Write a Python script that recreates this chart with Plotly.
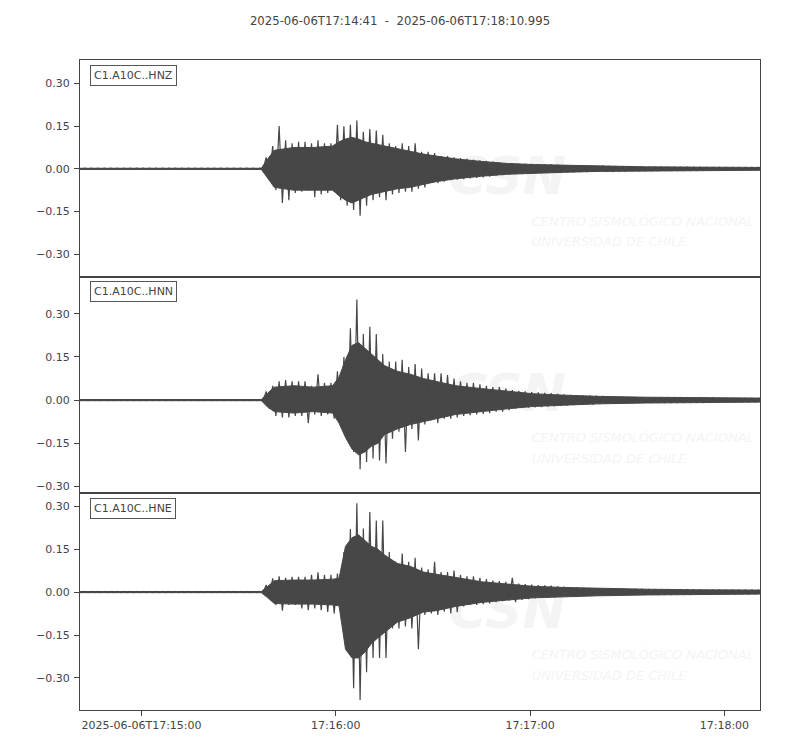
import pandas as pd
import plotly.graph_objects as go
from plotly.subplots import make_subplots

start = pd.Timestamp("2025-06-06T17:14:41")
end = pd.Timestamp("2025-06-06T17:18:10.995")

stations = ["C1.A10C..HNZ", "C1.A10C..HNN", "C1.A10C..HNE"]

# peak envelope, one max/min pair every 2 s after the start time
seconds = list(range(0, 211, 2))

hnz_max = [
    0.002, 0.002, 0.002, 0.002, 0.002, 0.002, 0.002, 0.002, 0.002, 0.002,
    0.002, 0.002, 0.002, 0.002, 0.002, 0.002, 0.002, 0.002, 0.002, 0.002,
    0.002, 0.002, 0.002, 0.002, 0.002, 0.002, 0.002, 0.002, 0.002,
    0.04, 0.08, 0.15, 0.10, 0.09, 0.095, 0.095, 0.09, 0.10, 0.09, 0.09,
    0.155, 0.15, 0.155, 0.17, 0.13, 0.14, 0.135, 0.12, 0.09, 0.08,
    0.09, 0.08, 0.09, 0.06, 0.06, 0.055, 0.045, 0.045, 0.04, 0.038,
    0.035, 0.032, 0.03, 0.028, 0.025, 0.022, 0.02, 0.02, 0.018, 0.018,
    0.017, 0.016, 0.015, 0.015, 0.014, 0.013, 0.012, 0.012, 0.011, 0.011,
    0.010, 0.010, 0.009,
    0.008, 0.008, 0.008, 0.007, 0.007, 0.007, 0.007, 0.007, 0.006, 0.006,
    0.006, 0.006, 0.006, 0.006, 0.005, 0.005, 0.005, 0.005, 0.005, 0.005,
    0.005, 0.005, 0.005,
]
hnz_min = [
    -0.002, -0.002, -0.002, -0.002, -0.002, -0.002, -0.002, -0.002, -0.002, -0.002,
    -0.002, -0.002, -0.002, -0.002, -0.002, -0.002, -0.002, -0.002, -0.002, -0.002,
    -0.002, -0.002, -0.002, -0.002, -0.002, -0.002, -0.002, -0.002, -0.002,
    -0.04, -0.075, -0.12, -0.11, -0.085, -0.08, -0.075, -0.10, -0.09, -0.085, -0.08,
    -0.11, -0.13, -0.145, -0.165, -0.13, -0.11, -0.10, -0.11, -0.09, -0.085,
    -0.08, -0.08, -0.07, -0.065, -0.05, -0.05, -0.045, -0.04, -0.038, -0.036,
    -0.034, -0.032, -0.03, -0.027, -0.024, -0.022, -0.02, -0.019, -0.018, -0.017,
    -0.016, -0.015, -0.015, -0.014, -0.013, -0.012, -0.012, -0.011, -0.011, -0.010,
    -0.010, -0.009, -0.009,
    -0.008, -0.008, -0.007, -0.007, -0.007, -0.007, -0.007, -0.006, -0.006, -0.006,
    -0.006, -0.006, -0.006, -0.005, -0.005, -0.005, -0.005, -0.005, -0.005, -0.005,
    -0.005, -0.005, -0.005,
]

hnn_max = [
    0.002, 0.002, 0.002, 0.002, 0.002, 0.002, 0.002, 0.002, 0.002, 0.002,
    0.002, 0.002, 0.002, 0.002, 0.002, 0.002, 0.002, 0.002, 0.002, 0.002,
    0.002, 0.002, 0.002, 0.002, 0.002, 0.002, 0.002, 0.002, 0.002,
    0.03, 0.05, 0.065, 0.07, 0.065, 0.065, 0.065, 0.05, 0.09, 0.06, 0.06,
    0.10, 0.15, 0.25, 0.35, 0.23, 0.255, 0.23, 0.16, 0.134, 0.134,
    0.14, 0.115, 0.125, 0.11, 0.093, 0.093, 0.093, 0.087, 0.075, 0.065,
    0.06, 0.06, 0.055, 0.05, 0.045, 0.045, 0.04, 0.035, 0.032, 0.03,
    0.028, 0.027, 0.025, 0.024, 0.022, 0.02, 0.018, 0.017, 0.016, 0.016,
    0.015, 0.014, 0.013,
    0.012, 0.012, 0.011, 0.011, 0.010, 0.010, 0.010, 0.009, 0.009, 0.009,
    0.009, 0.008, 0.008, 0.008, 0.008, 0.008, 0.007, 0.007, 0.007, 0.007,
    0.007, 0.007, 0.007,
]
hnn_min = [
    -0.002, -0.002, -0.002, -0.002, -0.002, -0.002, -0.002, -0.002, -0.002, -0.002,
    -0.002, -0.002, -0.002, -0.002, -0.002, -0.002, -0.002, -0.002, -0.002, -0.002,
    -0.002, -0.002, -0.002, -0.002, -0.002, -0.002, -0.002, -0.002, -0.002,
    -0.03, -0.055, -0.06, -0.06, -0.055, -0.055, -0.08, -0.05, -0.055, -0.05, -0.065,
    -0.085, -0.134, -0.18, -0.24, -0.215, -0.203, -0.21, -0.22, -0.134, -0.11,
    -0.18, -0.10, -0.14, -0.085, -0.07, -0.08, -0.065, -0.065, -0.06, -0.055,
    -0.052, -0.05, -0.048, -0.045, -0.04, -0.04, -0.035, -0.03, -0.028, -0.026,
    -0.025, -0.024, -0.023, -0.022, -0.02, -0.019, -0.017, -0.016, -0.015, -0.015,
    -0.014, -0.013, -0.012,
    -0.012, -0.011, -0.011, -0.010, -0.010, -0.010, -0.009, -0.009, -0.009, -0.009,
    -0.008, -0.008, -0.008, -0.008, -0.008, -0.007, -0.007, -0.007, -0.007, -0.007,
    -0.007, -0.007, -0.007,
]

hne_max = [
    0.002, 0.002, 0.002, 0.002, 0.002, 0.002, 0.002, 0.002, 0.002, 0.002,
    0.002, 0.002, 0.002, 0.002, 0.002, 0.002, 0.002, 0.002, 0.002, 0.002,
    0.002, 0.002, 0.002, 0.002, 0.002, 0.002, 0.002, 0.002, 0.002,
    0.025, 0.048, 0.055, 0.05, 0.053, 0.053, 0.053, 0.06, 0.069, 0.06, 0.06,
    0.065, 0.14, 0.22, 0.31, 0.222, 0.28, 0.25, 0.25, 0.14, 0.106,
    0.135, 0.106, 0.12, 0.086, 0.08, 0.106, 0.07, 0.07, 0.075, 0.06,
    0.055, 0.055, 0.05, 0.045, 0.04, 0.038, 0.036, 0.05, 0.03, 0.028,
    0.026, 0.024, 0.023, 0.022, 0.02, 0.019, 0.017, 0.016, 0.015, 0.014,
    0.013, 0.012, 0.012,
    0.011, 0.011, 0.010, 0.010, 0.010, 0.009, 0.009, 0.009, 0.009, 0.008,
    0.008, 0.008, 0.008, 0.008, 0.007, 0.007, 0.007, 0.007, 0.007, 0.007,
    0.007, 0.007, 0.007,
]
hne_min = [
    -0.002, -0.002, -0.002, -0.002, -0.002, -0.002, -0.002, -0.002, -0.002, -0.002,
    -0.002, -0.002, -0.002, -0.002, -0.002, -0.002, -0.002, -0.002, -0.002, -0.002,
    -0.002, -0.002, -0.002, -0.002, -0.002, -0.002, -0.002, -0.002, -0.002,
    -0.02, -0.045, -0.065, -0.045, -0.045, -0.057, -0.063, -0.057, -0.063, -0.069, -0.075,
    -0.057, -0.2, -0.336, -0.377, -0.28, -0.23, -0.23, -0.23, -0.127, -0.127,
    -0.12, -0.127, -0.2, -0.08, -0.075, -0.08, -0.069, -0.075, -0.07, -0.05,
    -0.045, -0.045, -0.042, -0.04, -0.035, -0.032, -0.03, -0.035, -0.027, -0.025,
    -0.022, -0.02, -0.019, -0.018, -0.017, -0.016, -0.015, -0.014, -0.013, -0.012,
    -0.012, -0.011, -0.011,
    -0.010, -0.010, -0.010, -0.009, -0.009, -0.009, -0.009, -0.008, -0.008, -0.008,
    -0.008, -0.008, -0.007, -0.007, -0.007, -0.007, -0.007, -0.007, -0.007, -0.007,
    -0.007, -0.007, -0.007,
]

# solid body of each trace (where the wiggles are dense), coarser time grid
body_seconds = [0, 56, 58, 60, 66, 72, 78, 80, 82, 84, 86, 88, 90, 92, 94,
                98, 102, 106, 110, 116, 124, 132, 140, 150, 160, 175, 190, 210]

hnz_body_up = [0.002, 0.002, 0.035, 0.065, 0.075, 0.075, 0.08, 0.095, 0.105, 0.11,
               0.105, 0.095, 0.09, 0.085, 0.08, 0.07, 0.062, 0.052, 0.045, 0.035,
               0.026, 0.019, 0.015, 0.012, 0.009, 0.007, 0.006, 0.005]
hnz_body_lo = [-0.002, -0.002, -0.035, -0.065, -0.075, -0.075, -0.075, -0.095, -0.11, -0.12,
               -0.11, -0.10, -0.09, -0.085, -0.08, -0.07, -0.065, -0.055, -0.045, -0.035,
               -0.026, -0.019, -0.015, -0.012, -0.009, -0.007, -0.006, -0.005]

hnn_body_up = [0.002, 0.002, 0.025, 0.045, 0.05, 0.045, 0.05, 0.08, 0.14, 0.19,
               0.20, 0.18, 0.16, 0.14, 0.12, 0.10, 0.09, 0.075, 0.065, 0.05,
               0.04, 0.03, 0.022, 0.017, 0.013, 0.010, 0.008, 0.007]
hnn_body_lo = [-0.002, -0.002, -0.025, -0.04, -0.045, -0.04, -0.045, -0.08, -0.13, -0.17,
               -0.19, -0.18, -0.16, -0.15, -0.12, -0.10, -0.085, -0.075, -0.065, -0.05,
               -0.04, -0.03, -0.022, -0.017, -0.013, -0.010, -0.008, -0.007]

hne_body_up = [0.002, 0.002, 0.02, 0.04, 0.042, 0.042, 0.045, 0.048, 0.16, 0.19,
               0.20, 0.18, 0.16, 0.15, 0.13, 0.10, 0.09, 0.07, 0.062, 0.05,
               0.036, 0.028, 0.02, 0.016, 0.013, 0.010, 0.008, 0.007]
hne_body_lo = [-0.002, -0.002, -0.02, -0.04, -0.042, -0.042, -0.045, -0.048, -0.20, -0.23,
               -0.23, -0.21, -0.18, -0.16, -0.14, -0.105, -0.09, -0.07, -0.065, -0.05,
               -0.036, -0.028, -0.02, -0.016, -0.013, -0.010, -0.008, -0.007]

y_ranges = [[-0.379, 0.3825], [-0.324, 0.429], [-0.412, 0.345]]
y_ticks = [-0.30, -0.15, 0.0, 0.15, 0.30]
x_ticks = ["2025-06-06 17:15:00", "2025-06-06 17:16:00",
           "2025-06-06 17:17:00", "2025-06-06 17:18:00"]
x_ticktext = ["2025-06-06T17:15:00", "17:16:00", "17:17:00", "17:18:00"]

wave_color = "#474747"
axis_color = "#444444"
mark_color = "#f4f4f4"
font = dict(family="DejaVu Sans", size=11, color="#444444")


def to_time(secs):
    return [start + pd.Timedelta(seconds=s) for s in secs]


fig = make_subplots(rows=3, cols=1, shared_xaxes=True, vertical_spacing=0)

panels = [
    (hnz_max, hnz_min, hnz_body_up, hnz_body_lo),
    (hnn_max, hnn_min, hnn_body_up, hnn_body_lo),
    (hne_max, hne_min, hne_body_up, hne_body_lo),
]
for i, (upper, lower, body_up, body_lo) in enumerate(panels):
    assert len(upper) == len(seconds) and len(lower) == len(seconds)
    assert len(body_up) == len(body_seconds) and len(body_lo) == len(body_seconds)
    row = i + 1
    y0, y1 = y_ranges[i]
    span = y1 - y0

    # faint CSN watermark, drawn first so the traces sit on top of it
    fig.add_trace(go.Scatter(
        x=to_time([132]), y=[y0 + 0.44 * span], mode="text", text=["CSN"],
        textfont=dict(family="DejaVu Sans", size=52, color=mark_color,
                      weight="bold", style="italic"),
        hoverinfo="skip", showlegend=False,
    ), row=row, col=1)
    fig.add_trace(go.Scatter(
        x=to_time([139.5, 139.5]), y=[y0 + 0.25 * span, y0 + 0.155 * span],
        mode="text", textposition="middle right",
        text=["CENTRO SISMOLÓGICO NACIONAL", "UNIVERSIDAD DE CHILE"],
        textfont=dict(family="DejaVu Sans", size=13, color=mark_color,
                      style="italic"),
        hoverinfo="skip", showlegend=False,
    ), row=row, col=1)

    # dense body of the trace
    bt = to_time(body_seconds)
    fig.add_trace(go.Scatter(
        x=bt + bt[::-1], y=body_up + body_lo[::-1],
        mode="lines", fill="toself", fillcolor=wave_color,
        line=dict(color=wave_color, width=1),
        hoverinfo="skip", showlegend=False,
    ), row=row, col=1)

    # peaks: swing from each max to its min
    zx, zy = [], []
    for s, hi, lo in zip(seconds, upper, lower):
        zx += [s - 0.5, s + 0.5]
        zy += [hi, lo]
    fig.add_trace(go.Scatter(
        x=to_time(zx), y=zy, mode="lines",
        line=dict(color=wave_color, width=1.2),
        hoverinfo="skip", showlegend=False,
    ), row=row, col=1)

    xd = "x domain" if i == 0 else f"x{row} domain"
    yd = "y domain" if i == 0 else f"y{row} domain"
    fig.add_annotation(
        xref=xd, yref=yd, x=0.015, y=0.978, xanchor="left", yanchor="top",
        text=stations[i], showarrow=False, font=font,
        bgcolor="white", bordercolor="#555555", borderwidth=1, borderpad=3,
    )

    fig.update_yaxes(
        range=y_ranges[i], tickvals=y_ticks, tickformat=".2f",
        ticks="outside", ticklen=5, tickcolor=axis_color, ticklabelstandoff=2,
        showline=True, linecolor=axis_color, linewidth=1, mirror=True,
        showgrid=False, zeroline=False, tickfont=font,
        row=row, col=1,
    )
    fig.update_xaxes(
        type="date", range=[start, end],
        tickvals=x_ticks, ticktext=x_ticktext,
        ticks="outside" if row == 3 else "", ticklen=5, tickcolor=axis_color,
        showline=True, linecolor=axis_color, linewidth=1, mirror=True,
        showgrid=False, zeroline=False, tickfont=font,
        row=row, col=1,
    )

fig.update_layout(
    width=792,
    height=742,
    margin=dict(l=72, r=40, t=52, b=40),
    plot_bgcolor="white",
    paper_bgcolor="white",
    font=font,
    title=dict(
        text="2025-06-06T17:14:41\u00a0\u00a0-\u00a0\u00a02025-06-06T17:18:10.995",
        x=392 / 792, xref="container", xanchor="center",
        y=1 - 13 / 742, yref="container", yanchor="middle",
        font=dict(family="DejaVu Sans", size=11.7, color="#444444"),
    ),
)

fig.write_html("out.html")
